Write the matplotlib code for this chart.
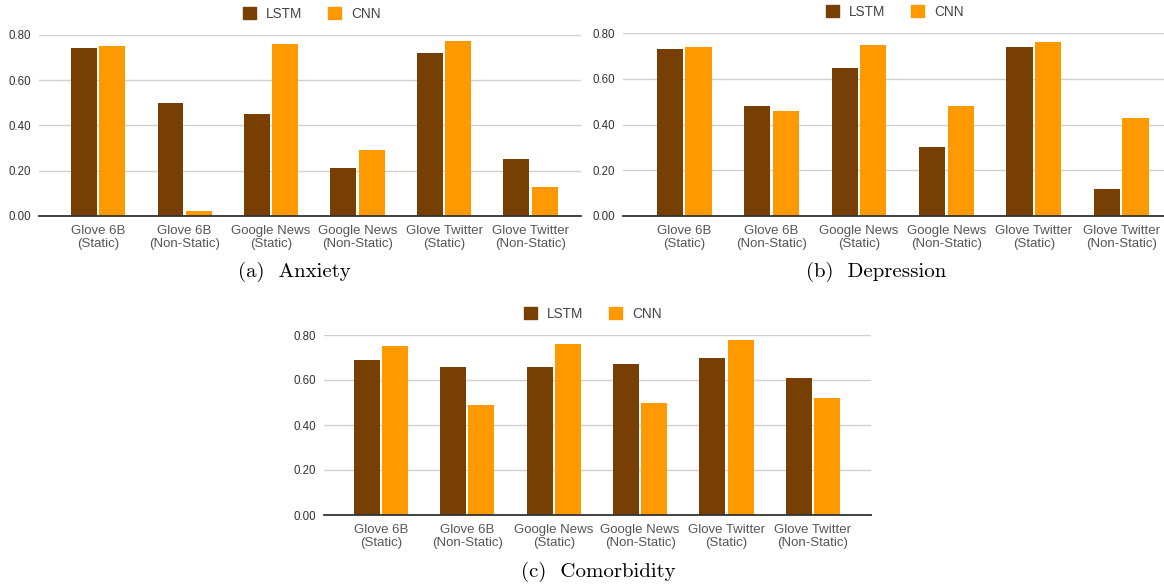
import matplotlib
matplotlib.use("Agg")
import matplotlib.pyplot as plt
import numpy as np

categories = ["Glove 6B\n(Static)", "Glove 6B\n(Non-Static)", "Google News\n(Static)",
              "Google News\n(Non-Static)", "Glove Twitter\n(Static)", "Glove Twitter\n(Non-Static)"]
series_names = ["LSTM", "CNN"]
yticks = [0.0, 0.2, 0.4, 0.6, 0.8]
ytick_labels = ["0.00", "0.20", "0.40", "0.60", "0.80"]

anxiety_lstm = [0.74, 0.50, 0.45, 0.21, 0.72, 0.25]
anxiety_cnn = [0.75, 0.02, 0.76, 0.29, 0.77, 0.13]
depression_lstm = [0.73, 0.48, 0.65, 0.30, 0.74, 0.12]
depression_cnn = [0.74, 0.46, 0.75, 0.48, 0.76, 0.43]
comorbidity_lstm = [0.69, 0.66, 0.66, 0.67, 0.70, 0.61]
comorbidity_cnn = [0.75, 0.49, 0.76, 0.50, 0.78, 0.52]

captions = ["(a)  Anxiety", "(b)  Depression", "(c)  Comorbidity"]

LSTM_COLOR = "#783f04"
CNN_COLOR = "#ff9900"
SANS = "Liberation Sans"

W, H = 1164, 588
fig = plt.figure(figsize=(W / 100, H / 100), dpi=100)


def px_axes(x0, x1, ytop, ybot):
    return fig.add_axes([x0 / W, 1 - ybot / H, (x1 - x0) / W, (ybot - ytop) / H])


def draw(ax, lstm, cnn, xlim, legend_px, caption, caption_px):
    x = np.arange(len(categories))
    ax.bar(x - 0.163, lstm, width=0.30, color=LSTM_COLOR, zorder=3)
    ax.bar(x + 0.163, cnn, width=0.30, color=CNN_COLOR, zorder=3)
    ax.set_xlim(*xlim)
    ax.set_ylim(0, 0.8)
    ax.set_yticks(yticks)
    ax.set_yticklabels(ytick_labels, fontsize=8.3, color="#333333", family=SANS)
    ax.set_xticks(x)
    ax.set_xticklabels(categories, fontsize=9.5, color="#555555", family=SANS,
                       linespacing=1.1)
    ax.tick_params(axis="both", length=0)
    ax.tick_params(axis="x", pad=6.5)
    ax.tick_params(axis="y", pad=6)
    for s in ax.spines.values():
        s.set_visible(False)
    ax.yaxis.grid(True, color="#d0d0d0", linewidth=1.0, zorder=0)
    ax.set_axisbelow(True)
    ax.axhline(0, color="#333333", linewidth=1.3, zorder=4, clip_on=False)
    # legend
    lx, ly = legend_px
    handles = [plt.Rectangle((0, 0), 1, 1, color=LSTM_COLOR),
               plt.Rectangle((0, 0), 1, 1, color=CNN_COLOR)]
    fig.legend(handles, series_names, loc="center", bbox_to_anchor=(lx / W, 1 - ly / H),
               ncol=2, frameon=False, handlelength=0.95, handleheight=0.95,
               handletextpad=0.75, columnspacing=1.9,
               prop={"family": SANS, "size": 9.8}, labelcolor="#444444")
    cx, cy = caption_px
    fig.text(cx / W, 1 - cy / H, caption, ha="center", va="center",
             family="cmr10", fontsize=15, color="#000000")


ax1 = px_axes(39.3, 580.7, 34.7, 216)
draw(ax1, anxiety_lstm, anxiety_cnn, (-0.68, 5.58), (312, 14), captions[0], (294, 272))

ax2 = px_axes(623, 1164, 33.3, 216)
draw(ax2, depression_lstm, depression_cnn, (-0.70, 5.49), (895, 12), captions[1], (876, 272))

ax3 = px_axes(324, 870.7, 335, 515)
draw(ax3, comorbidity_lstm, comorbidity_cnn, (-0.66, 5.67), (593, 314), captions[2], (598, 572))

fig.savefig("out.png", dpi=100, facecolor="white")
